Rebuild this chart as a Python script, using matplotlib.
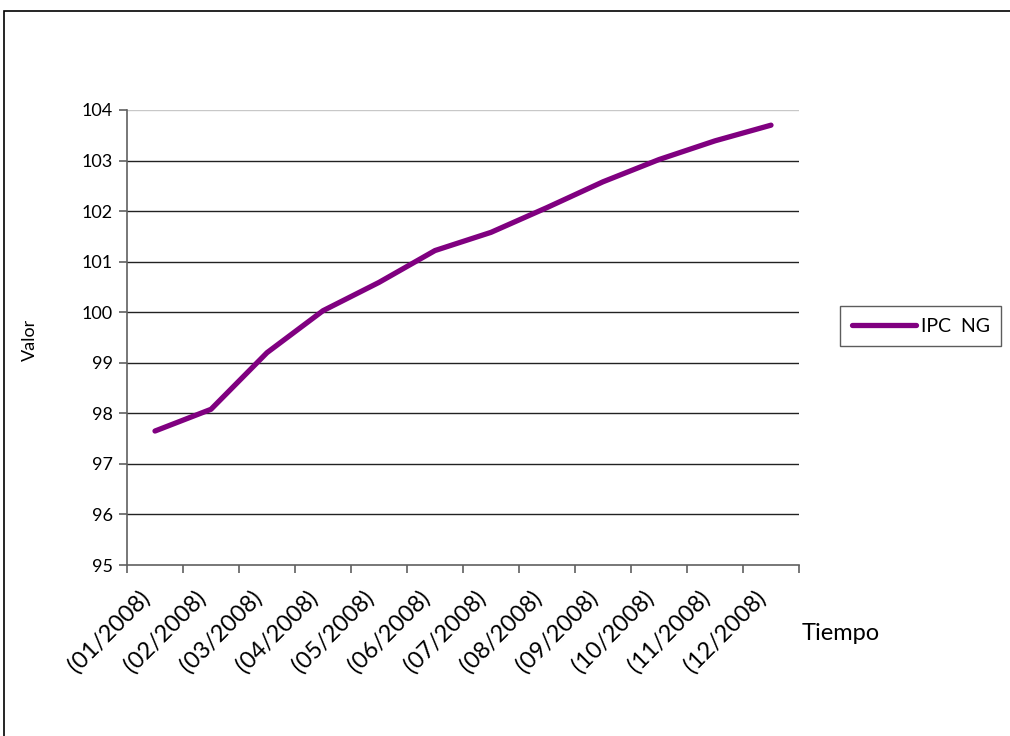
import matplotlib.pyplot as plt
from matplotlib.patches import Rectangle
from matplotlib.transforms import ScaledTranslation

# IPC NG, 2008
months = ["(01/2008)", "(02/2008)", "(03/2008)", "(04/2008)", "(05/2008)", "(06/2008)",
          "(07/2008)", "(08/2008)", "(09/2008)", "(10/2008)", "(11/2008)", "(12/2008)"]
ipc_ng = [97.65, 98.08, 99.20, 100.03, 100.59, 101.22,
          101.58, 102.07, 102.58, 103.02, 103.39, 103.70]
y_ticks = [95, 96, 97, 98, 99, 100, 101, 102, 103, 104]

plt.rcParams['font.family'] = ['Lato', 'DejaVu Sans']

W, H = 1010, 736
fig = plt.figure(figsize=(W / 100, H / 100), dpi=100, facecolor='white')

# outer chart border
fig.patches.append(Rectangle((4 / W, -0.05), 1.2, 1 - 11 / H + 0.05, transform=fig.transFigure,
                             fill=False, edgecolor='black', linewidth=1.2))

ax = fig.add_axes([127 / W, 1 - 565 / H, (799 - 127) / W, (565 - 110) / H])

x = list(range(len(months)))
ax.plot(x, ipc_ng, color='#800080', linewidth=3.8, solid_capstyle='round',
        solid_joinstyle='round', label='IPC  NG', zorder=3)

ax.set_xlim(-0.5, len(months) - 0.5)
ax.set_ylim(95, 104)
ax.set_yticks(y_ticks)
ax.set_yticklabels([str(v) for v in y_ticks], fontsize=13)

# category labels centred, tick marks between categories
ax.set_xticks(x)
ax.set_xticklabels(months, rotation=45, ha='right', va='center', rotation_mode='anchor', fontsize=17)
ax.tick_params(axis='x', length=0, pad=21)
shift = ScaledTranslation(-9 / 100, 0, fig.dpi_scale_trans)
for lab in ax.get_xticklabels():
    lab.set_transform(lab.get_transform() + shift)
ax.set_xticks([i - 0.5 for i in range(len(months) + 1)], minor=True)
ax.tick_params(axis='x', which='minor', length=6, color='#606060', width=1.2, direction='out')
ax.tick_params(axis='y', length=6, color='#606060', width=1.2, direction='out', pad=4)

for v in y_ticks[1:-1]:
    ax.axhline(v, color='#222222', linewidth=1.0, zorder=1)
ax.axhline(104, color='#c8c8c8', linewidth=1.0, zorder=1)

for s in ['top', 'right']:
    ax.spines[s].set_visible(False)
for s in ['left', 'bottom']:
    ax.spines[s].set_color('#606060')
    ax.spines[s].set_linewidth(1.2)

fig.text(30 / W, 1 - 340 / H, 'Valor', rotation=90, ha='center', va='center', fontsize=13)
fig.text(841 / W, 1 - 634 / H, 'Tiempo', ha='center', va='center', fontsize=17)

leg = ax.legend(loc='center left', bbox_to_anchor=(840 / W, 1 - 326 / H), bbox_transform=fig.transFigure,
                frameon=True, fancybox=False, fontsize=14, handlelength=3.3, borderpad=0.6,
                handletextpad=0.25, borderaxespad=0)
leg.get_frame().set_edgecolor('#333333')
leg.get_frame().set_linewidth(1.0)

fig.savefig('out.png', dpi=100, facecolor='white')
